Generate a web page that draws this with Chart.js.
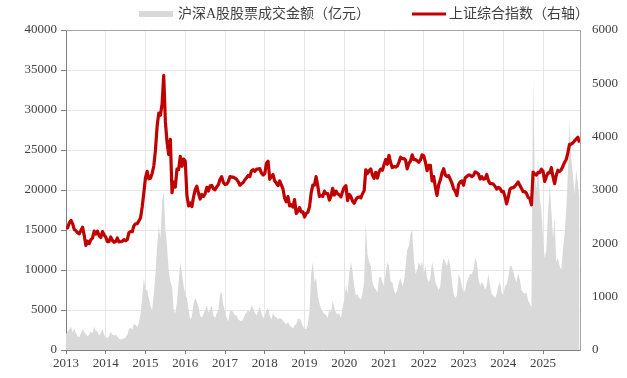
<!DOCTYPE html>
<html>
<head>
<meta charset="utf-8">
<script src="https://cdn.jsdelivr.net/npm/chart.js@4.4.0/dist/chart.umd.min.js"></script>
<style>
  html, body { margin: 0; padding: 0; background: #fff; }
  #wrap { width: 627px; height: 378px; }
</style>
</head>
<body>
<div id="wrap"><canvas id="chart" width="627" height="378"></canvas></div>
<script>
// series names (legend)
var seriesNames = ['沪深A股股票成交金额（亿元）', '上证综合指数（右轴）'];

// x axis: years, data every half month starting Jan 2013
var years = [2013, 2014, 2015, 2016, 2017, 2018, 2019, 2020, 2021, 2022, 2023, 2024, 2025];
var startYear = 2013;
var pointsPerYear = 24;
var endYear = 2025.93;

var leftTicks = [0, 5000, 10000, 15000, 20000, 25000, 30000, 35000, 40000];
var rightTicks = [0, 1000, 2000, 3000, 4000, 5000, 6000];

// turnover, 亿元 (left axis)
var turnover = [2000,
  2300,2600, 2900,2200, 2700,2100, 1700,1600, 2100,2600, 2200,2000, 1700,1900, 2300,2100, 2900,2400, 2300,1800, 2100,2600, 1900,1600,
  1500,1700, 2300,1900, 1800,1900, 1700,1400, 1300,1400, 1400,1600, 1900,2600, 2800,2500, 3300,3100, 2900,3400, 4500,6500, 9000,7500,
  7500,6500, 5500,5000, 7000,9500, 13000,15500, 14000,18500, 19800,15000, 13000,10000, 8500,8000, 5000,4600, 6000,8500, 11000,9500, 8000,7000,
  6500,5000, 3800,4200, 5800,6500, 6000,5400, 4300,4000, 4500,5000, 5600,4700, 5000,5600, 4300,4000, 4600,5000, 7000,7200, 5600,4800,
  4000,3600, 4800,5000, 4700,4300, 4300,3800, 3700,3600, 3900,4400, 4700,5000, 4800,5600, 5200,4700, 4300,4800, 5500,4600, 4000,4300,
  5000,5300, 4300,3800, 4600,4200, 4100,3800, 4000,3900, 3700,3400, 3200,3500, 3100,2900, 2700,3100, 3200,3900, 3900,3600, 3000,2700,
  2600,3200, 4800,9500, 11000,8500, 9000,6800, 5800,5200, 4800,4500, 4400,4000, 5200,4700, 6200,5200, 4700,4400, 4600,4000, 5300,6300,
  8000,7000, 9500,11000, 9800,8000, 6800,7000, 6500,6300, 7000,8500, 16000,12000, 11000,10500, 8500,7800, 7600,7200, 9000,9200, 8500,8000,
  9500,11000, 10500,8500, 8500,7500, 7000,7500, 8500,9000, 8000,8500, 10500,12500, 13000,14500, 15000,11500, 9500,10000, 11000,10500, 11000,9500,
  10500,9000, 8500,9000, 11000,10000, 8500,8000, 7500,8000, 10500,11500, 11000,10500, 11500,10500, 8500,7000, 6500,6800, 9500,9000, 8000,7200,
  7500,8500, 9000,9500, 9500,10000, 11500,11000, 9000,8000, 8500,8200, 7500,8000, 9500,8000, 7000,6800, 6500,7000, 8000,8500, 7200,6800,
  8000,8200, 9000,10500, 10500,9800, 9000,8500, 9500,8800, 7500,7200, 7000,7200, 6200,5800, 5300,34000, 22000,20000, 24000,19000, 17500,14000,
  11500,12500, 17000,20500, 17500,14000, 16500,11000, 11500,10500, 10000,12500, 14500,17500, 22000,28500, 24000,22000, 19500,22500, 21000,19000
];

// Shanghai composite (right axis)
var sse = [2310,
  2290,2385, 2430,2366, 2260,2237, 2200,2178, 2240,2301, 2150,1960, 2040,1994, 2070,2098, 2230,2175, 2230,2141, 2110,2220, 2160,2116,
  2030,2033, 2120,2056, 2020,2033, 2100,2026, 2030,2039, 2070,2048, 2070,2202, 2220,2217, 2330,2364, 2370,2420, 2480,2683, 2950,3235,
  3350,3210, 3220,3310, 3450,3748, 4190,4441, 4400,4612, 5150,4277, 3900,3664, 3950,2950, 3150,3053, 3390,3383, 3630,3445, 3580,3539,
  2900,2700, 2760,2688, 2870,3004, 3070,2938, 2830,2917, 2880,2930, 3050,2979, 3080,3085, 3020,3005, 3060,3100, 3200,3250, 3140,3104,
  3110,3159, 3250,3242, 3240,3223, 3200,3155, 3090,3117, 3140,3192, 3230,3273, 3250,3361, 3380,3349, 3390,3393, 3400,3317, 3280,3307,
  3500,3540, 3200,3259, 3290,3169, 3130,3082, 3170,3095, 3020,2847, 2780,2876, 2700,2725, 2680,2821, 2560,2603, 2670,2588, 2590,2494,
  2560,2585, 2680,2941, 3090,3091, 3250,3078, 2880,2899, 2880,2979, 2930,2932, 2810,2886, 3030,2905, 2980,2929, 2910,2871, 2970,3050,
  3080,2800, 2920,2880, 2790,2750, 2820,2860, 2870,2852, 2930,2985, 3380,3310, 3360,3396, 3280,3218, 3330,3225, 3340,3392, 3370,3473,
  3570,3483, 3650,3509, 3420,3441, 3430,3447, 3520,3615, 3590,3591, 3560,3397, 3500,3544, 3660,3568, 3570,3547, 3520,3564, 3660,3640,
  3520,3361, 3460,3462, 3170,3252, 3050,2900, 3100,3186, 3320,3399, 3280,3253, 3270,3202, 3130,3024, 2980,2893, 3100,3151, 3170,3089,
  3230,3255, 3280,3280, 3250,3273, 3340,3323, 3300,3205, 3250,3202, 3210,3291, 3180,3120, 3120,3110, 3070,3018, 3050,3030, 2970,2975,
  2880,2740, 2860,3015, 3040,3041, 3070,3105, 3150,3087, 3030,2967, 2970,2939, 2860,2842, 2720,3336, 3300,3279, 3330,3327, 3390,3352,
  3160,3250, 3320,3320, 3420,3250, 3120,3279, 3370,3347, 3380,3444, 3520,3573, 3700,3858, 3860,3883, 3920,3955, 3990,3888
];

var font = '"Liberation Serif", "Noto Sans CJK SC", serif';
var textColor = '#404040';

function toPoints(values) {
  return values.map(function (v, i) {
    return { x: startYear + i / pointsPerYear, y: v };
  });
}

function fixedTicks(list) {
  return function (scale) {
    scale.ticks = list.map(function (v) { return { value: v }; });
  };
}

// frame on top + legend
var frameAndLegend = {
  id: 'frameAndLegend',
  afterDraw: function (chart) {
    var ctx = chart.ctx;
    var a = chart.chartArea;
    ctx.save();
    ctx.strokeStyle = '#a6a6a6';
    ctx.lineWidth = 1;
    ctx.beginPath();
    ctx.moveTo(a.left, Math.round(a.top) + 0.5);
    ctx.lineTo(Math.round(a.right) + 0.5, Math.round(a.top) + 0.5);
    ctx.stroke();

    ctx.font = '14px ' + font;
    ctx.textBaseline = 'middle';
    ctx.fillStyle = '#d9d9d9';
    ctx.fillRect(139, 11, 34, 6);
    ctx.fillStyle = textColor;
    ctx.fillText(seriesNames[0], 178, 14);

    ctx.strokeStyle = '#c00000';
    ctx.lineWidth = 3;
    ctx.beginPath();
    ctx.moveTo(412, 14);
    ctx.lineTo(446, 14);
    ctx.stroke();
    ctx.fillText(seriesNames[1], 449, 14);
    ctx.restore();
  }
};

new Chart(document.getElementById('chart'), {
  type: 'line',
  data: {
    datasets: [
      {
        label: seriesNames[1],
        data: toPoints(sse),
        yAxisID: 'y1',
        borderColor: '#c00000',
        borderWidth: 3.2,
        borderJoinStyle: 'round',
        pointRadius: 0,
        tension: 0,
        fill: false,
        order: 0
      },
      {
        label: seriesNames[0],
        data: toPoints(turnover),
        yAxisID: 'y',
        borderWidth: 0,
        backgroundColor: '#d9d9d9',
        pointRadius: 0,
        tension: 0,
        fill: 'origin',
        order: 1
      }
    ]
  },
  options: {
    responsive: false,
    animation: false,
    devicePixelRatio: 1,
    layout: { padding: { top: 30, left: 0, right: 0, bottom: 0 } },
    plugins: {
      legend: { display: false },
      tooltip: { enabled: false }
    },
    scales: {
      x: {
        type: 'linear',
        min: startYear,
        max: endYear,
        afterBuildTicks: fixedTicks(years),
        afterFit: function (s) { s.height = 28; },
        grid: { color: '#e6e6e6', tickLength: 4, tickColor: '#808080' },
        border: { color: '#808080' },
        ticks: {
          color: textColor,
          font: { family: font, size: 13 },
          padding: 2,
          maxRotation: 0,
          autoSkip: false,
          callback: function (v) { return String(v); }
        }
      },
      y: {
        position: 'left',
        min: 0,
        max: 40000,
        afterBuildTicks: fixedTicks(leftTicks),
        afterFit: function (s) { s.width = 66; },
        grid: { color: '#e6e6e6', tickLength: 5, tickColor: '#808080' },
        border: { color: '#808080' },
        ticks: {
          color: textColor,
          font: { family: font, size: 13 },
          padding: 4,
          callback: function (v) { return String(v); }
        }
      },
      y1: {
        position: 'right',
        min: 0,
        max: 6000,
        afterBuildTicks: fixedTicks(rightTicks),
        afterFit: function (s) { s.width = 47; },
        grid: { drawOnChartArea: false, drawTicks: false },
        border: { color: '#a6a6a6' },
        ticks: {
          color: textColor,
          font: { family: font, size: 13 },
          padding: 12,
          callback: function (v) { return String(v); }
        }
      }
    }
  },
  plugins: [frameAndLegend]
});
</script>
</body>
</html>
